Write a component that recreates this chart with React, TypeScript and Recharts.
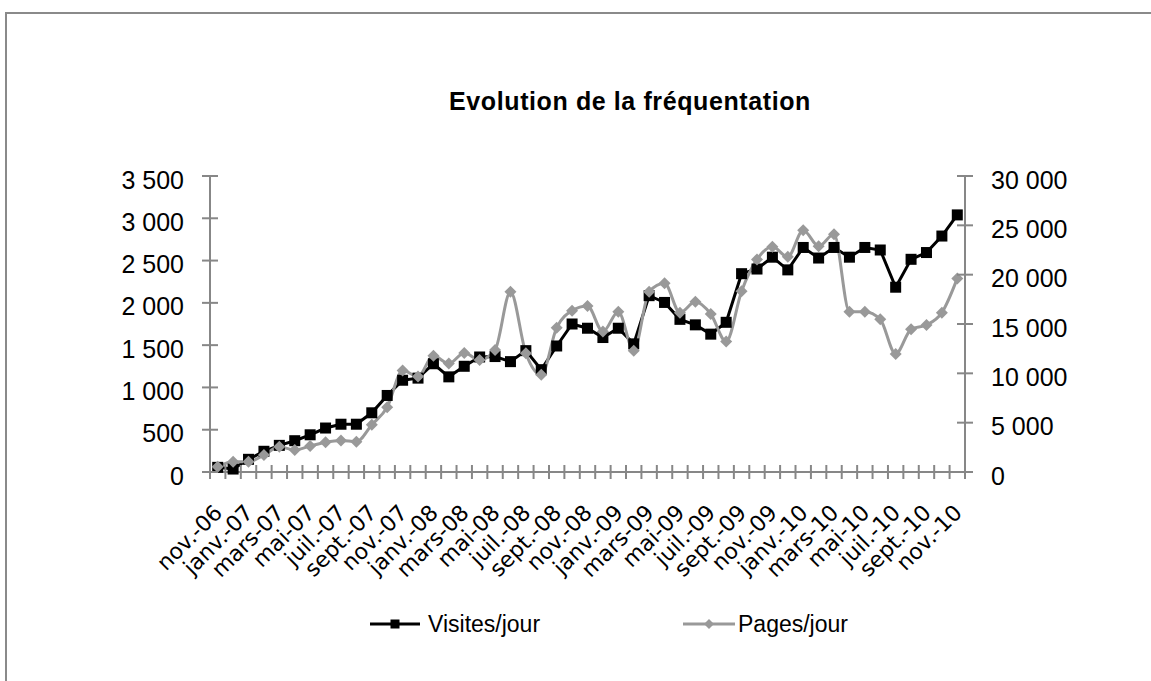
import React from "react";
import { Legend, Line, LineChart, XAxis, YAxis } from "recharts";

// monthly stats, nov. 2006 -> nov. 2010
const months = [
  "nov.-06", "déc.-06",
  "janv.-07", "févr.-07", "mars-07", "avr.-07", "mai-07", "juin-07", "juil.-07", "août-07", "sept.-07", "oct.-07", "nov.-07", "déc.-07",
  "janv.-08", "févr.-08", "mars-08", "avr.-08", "mai-08", "juin-08", "juil.-08", "août-08", "sept.-08", "oct.-08", "nov.-08", "déc.-08",
  "janv.-09", "févr.-09", "mars-09", "avr.-09", "mai-09", "juin-09", "juil.-09", "août-09", "sept.-09", "oct.-09", "nov.-09", "déc.-09",
  "janv.-10", "févr.-10", "mars-10", "avr.-10", "mai-10", "juin-10", "juil.-10", "août-10", "sept.-10", "oct.-10", "nov.-10"
];

const visitsPerDay = [
  55, 35, 150, 245, 315, 370, 440, 520, 565, 565, 700, 905, 1085, 1110, 1280, 1125, 1250,
  1360, 1365, 1305, 1435, 1210, 1490, 1750, 1700, 1590, 1700, 1515, 2085, 2005, 1805, 1740,
  1630, 1770, 2345, 2400, 2540, 2390, 2655, 2530, 2655, 2540, 2655, 2625, 2185, 2515, 2595,
  2790, 3040
];

const pagesPerDay = [
  520, 1040, 1040, 1720, 2550, 2230, 2630, 3020, 3200, 3070, 4790, 6570, 10280, 9680, 11770,
  10990, 12070, 11360, 12370, 18270, 12040, 9850, 14630, 16350, 16820, 14230, 16250, 12300,
  18270, 19120, 16150, 17260, 16010, 13220, 18320, 21540, 22820, 21810, 24510, 22890, 24100,
  16250, 16250, 15470, 11970, 14460, 14900, 16150, 19620
];

const leftTicks = [0, 500, 1000, 1500, 2000, 2500, 3000, 3500];
const rightTicks = [0, 5000, 10000, 15000, 20000, 25000, 30000];

const data = months.map((month, idx) => ({
  idx,
  month,
  visits: visitsPerDay[idx],
  pages: pagesPerDay[idx]
}));

// tick marks sit between categories, labels on every other month
const xTicks: number[] = [];
for (let i = 0; i <= months.length; i++) {
  xTicks.push(i - 0.5);
  if (i < months.length && i % 2 === 0) xTicks.push(i);
}

const axisColor = "#878787";
const grey = "#999999";
const sans = "'Liberation Sans', Arial, sans-serif";

const fmt = (v: number) => String(v).replace(/\B(?=(\d{3})+(?!\d))/g, " ");

const XTick = (props: any) => {
  const { x, y, payload } = props;
  const v = payload.value as number;
  if (!Number.isInteger(v)) {
    return <line x1={x} x2={x} y1={y - 7} y2={y + 7} stroke={axisColor} strokeWidth={2} />;
  }
  const ax = x + 6;
  const ay = y + 42;
  return (
    <text
      x={ax}
      y={ay}
      transform={`rotate(-45 ${ax} ${ay})`}
      textAnchor="end"
      fontFamily="'DejaVu Sans', sans-serif"
      fontSize={22}
      fill="#000"
    >
      {months[v]}
    </text>
  );
};

const LeftTick = (props: any) => {
  const { x, y, payload } = props;
  return (
    <g>
      <line x1={x + 18} x2={x + 34} y1={y} y2={y} stroke={axisColor} strokeWidth={2} />
      <text x={x} y={y + 12.5} textAnchor="end" fontFamily={sans} fontSize={25} fill="#000">
        {fmt(payload.value)}
      </text>
    </g>
  );
};

const RightTick = (props: any) => {
  const { x, y, payload } = props;
  return (
    <g>
      <line x1={x - 34} x2={x - 18} y1={y} y2={y} stroke={axisColor} strokeWidth={2} />
      <text x={x} y={y + 12.5} textAnchor="start" fontFamily={sans} fontSize={25} fill="#000">
        {fmt(payload.value)}
      </text>
    </g>
  );
};

const SquareDot = (props: any) => {
  const { cx, cy, index } = props;
  return <rect key={`sq-${index}`} x={cx - 5.5} y={cy - 5.5} width={11} height={11} fill="#000" />;
};

const DiamondDot = (props: any) => {
  const { cx, cy, index } = props;
  return (
    <polygon
      key={`dm-${index}`}
      points={`${cx},${cy - 6} ${cx + 6},${cy} ${cx},${cy + 6} ${cx - 6},${cy}`}
      fill={grey}
    />
  );
};

const renderLegend = () => (
  <svg width={1151} height={40} style={{ display: "block" }}>
    <line x1={370} x2={420} y1={20} y2={20} stroke="#000" strokeWidth={3} />
    <rect x={390.5} y={15.5} width={9} height={9} fill="#000" />
    <text x={428} y={27.7} fontFamily={sans} fontSize={23} fill="#000">
      Visites/jour
    </text>
    <line x1={683} x2={735} y1={20} y2={20} stroke={grey} strokeWidth={3} />
    <polygon points="709,15 714,20 709,25 704,20" fill={grey} />
    <text x={738} y={27.7} fontFamily={sans} fontSize={23} fill="#000">
      Pages/jour
    </text>
  </svg>
);

export default function App() {
  return (
    <div
      style={{
        position: "absolute",
        left: 0,
        top: 0,
        width: 1151,
        height: 681,
        overflow: "hidden",
        background: "#fff"
      }}
    >
      <div
        style={{
          position: "absolute",
          left: 5,
          top: 12,
          width: 1200,
          height: 720,
          borderTop: "2px solid #8a8a8a",
          borderLeft: "2px solid #8a8a8a"
        }}
      />
      <div
        style={{
          position: "absolute",
          left: 0,
          width: 1260,
          top: 87,
          textAlign: "center",
          fontFamily: sans,
          fontWeight: "bold",
          fontSize: 25,
          letterSpacing: 0.6,
          lineHeight: "28px",
          color: "#000"
        }}
      >
        Evolution de la fréquentation
      </div>
      <div style={{ position: "absolute", left: 0, top: 0 }}>
        <LineChart width={1151} height={681} data={data} margin={{ top: 176, right: 0, bottom: 0, left: 0 }}>
          <XAxis
            dataKey="idx"
            type="number"
            domain={[-0.5, months.length - 0.5]}
            ticks={xTicks}
            interval={0}
            height={209}
            tickSize={0}
            tickMargin={0}
            tickLine={false}
            axisLine={{ stroke: axisColor, strokeWidth: 2 }}
            tick={XTick}
          />
          <YAxis
            yAxisId="v"
            orientation="left"
            width={210}
            domain={[0, 3500]}
            ticks={leftTicks}
            interval={0}
            tickSize={8}
            tickMargin={18}
            tickLine={false}
            axisLine={{ stroke: axisColor, strokeWidth: 2 }}
            tick={LeftTick}
          />
          <YAxis
            yAxisId="p"
            orientation="right"
            width={186}
            domain={[0, 30000]}
            ticks={rightTicks}
            interval={0}
            tickSize={8}
            tickMargin={18}
            tickLine={false}
            axisLine={{ stroke: axisColor, strokeWidth: 2 }}
            tick={RightTick}
          />
          <Legend
            layout="horizontal"
            verticalAlign="middle"
            align="center"
            wrapperStyle={{ top: 604, left: 0, width: 1151, height: 40 }}
            content={renderLegend}
          />
          <Line
            yAxisId="v"
            dataKey="visits"
            name="Visites/jour"
            type="linear"
            stroke="#000"
            strokeWidth={3}
            dot={SquareDot}
            activeDot={false}
            isAnimationActive={false}
          />
          <Line
            yAxisId="p"
            dataKey="pages"
            name="Pages/jour"
            type="monotone"
            stroke={grey}
            strokeWidth={3}
            dot={DiamondDot}
            activeDot={false}
            isAnimationActive={false}
          />
        </LineChart>
      </div>
    </div>
  );
}
